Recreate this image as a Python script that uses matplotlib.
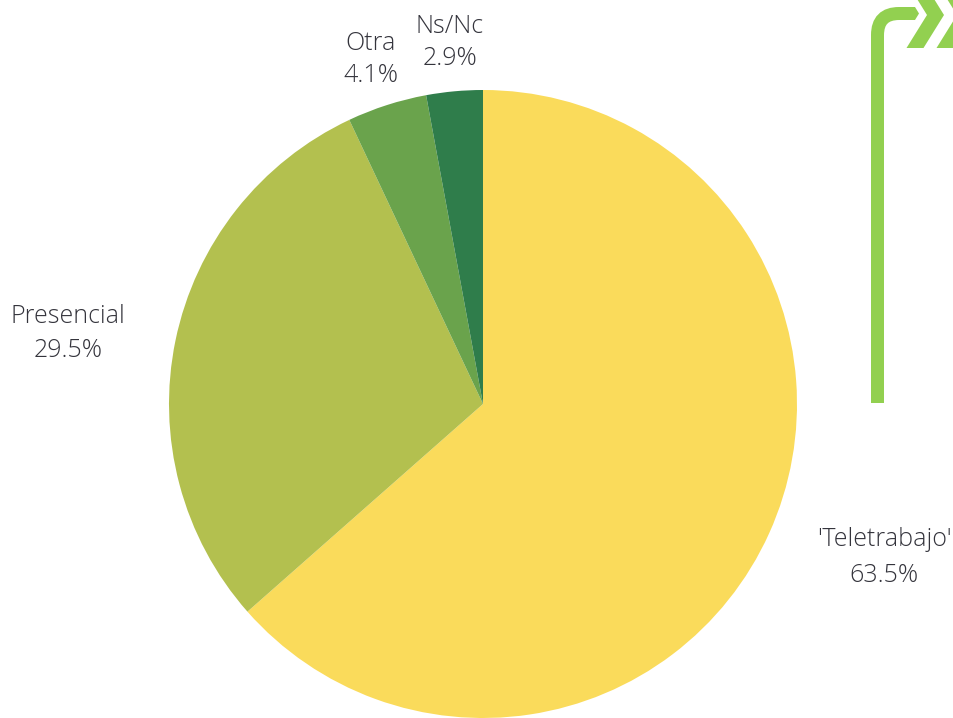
import matplotlib
matplotlib.use('Agg')
import matplotlib.pyplot as plt
from matplotlib.path import Path
from matplotlib.patches import PathPatch, Polygon

# datos del gráfico
labels = ["'Teletrabajo'", "Presencial", "Otra", "Ns/Nc"]
values = [63.5, 29.5, 4.1, 2.9]
colors = ['#FADB5B', '#B3C04F', '#6AA34C', '#2F7D4B']

W, H = 954, 718
fig = plt.figure(figsize=(W / 100, H / 100), dpi=100)
ax = fig.add_axes([0, 0, 1, 1])

# la tarta, sentido horario empezando arriba
ax.pie(values, colors=colors, startangle=90, counterclock=False,
       center=(483, H - 404), radius=314, wedgeprops=dict(linewidth=0))
ax.set_xlim(0, W)
ax.set_ylim(0, H)
ax.axis('off')

# etiquetas: (x, línea base nombre, línea base porcentaje) en píxeles de imagen
label_pos = {
    "'Teletrabajo'": (884, 546, 582),
    "Presencial": (68, 323, 357),
    "Otra": (371, 50, 82),
    "Ns/Nc": (450, 33, 65),
}
txt = dict(ha='center', va='baseline', fontsize=18, color='#34343c',
           family=['Open Sans', 'DejaVu Sans'], fontweight='light')
for lab, val in zip(labels, values):
    x, y1, y2 = label_pos[lab]
    ax.text(x, H - y1, lab, **txt)
    ax.text(x, H - y2, f'{val:.1f}%', **txt)

# adorno verde arriba a la derecha
green = '#92D050'
verts = [(877.5, 403), (877.5, 35), (877.5, 13.5), (899, 13.5), (911, 13.5)]
codes = [Path.MOVETO, Path.LINETO, Path.CURVE3, Path.CURVE3, Path.LINETO]
bar = Path([(x, H - y) for x, y in verts], codes)
ax.add_patch(PathPatch(bar, facecolor='none', edgecolor=green,
                       linewidth=13 * 72 / 100, capstyle='butt', joinstyle='miter'))
tip = [(910, 7), (915, 7), (919, 13.5), (915, 20), (910, 20)]
ax.add_patch(Polygon([(x, H - y) for x, y in tip], closed=True,
                     facecolor=green, edgecolor='none'))
for d in (0, 30):
    chev = [(906.5, 48), (923.5, 48), (944, 15), (928.5, -10), (911.5, -10), (927, 15)]
    ax.add_patch(Polygon([(x + d, H - y) for x, y in chev], closed=True,
                         facecolor=green, edgecolor='none'))

fig.savefig('out.png', dpi=100)
